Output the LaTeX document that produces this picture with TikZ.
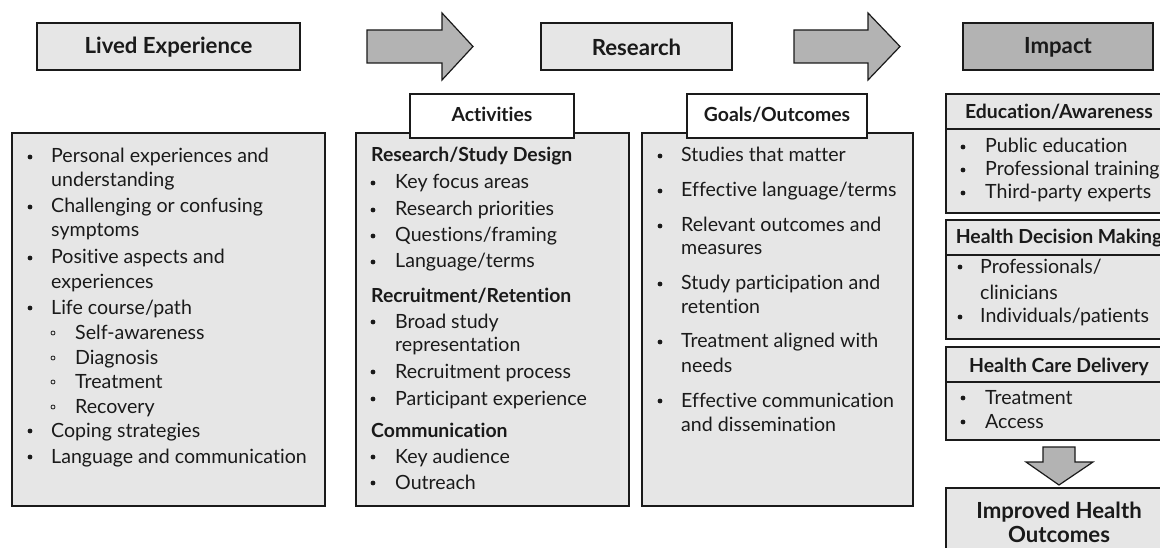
\documentclass[tikz,border=0pt]{standalone}
\usepackage{fontspec}
\setmainfont{Lato}[Ligatures=NoCommon]
\definecolor{boxfill}{HTML}{E6E6E6}
\definecolor{darkfill}{HTML}{B3B3B3}
\definecolor{ink}{HTML}{1A1A1A}
\tikzset{
  panel/.style={draw=ink, line width=1.3pt, fill=boxfill},
  darkpanel/.style={draw=ink, line width=1.3pt, fill=darkfill},
  tabbox/.style={draw=ink, line width=1.3pt, fill=white},
  bigarrow/.style={draw=ink, line width=1.2pt, fill=darkfill, line join=miter},
  txt/.style={anchor=base west, inner sep=0pt, font=\fontsize{19.6}{22}\selectfont, text=ink},
  hdr/.style={anchor=base west, inner sep=0pt, font=\fontsize{19.4}{22}\selectfont\bfseries, text=ink},
  title/.style={inner sep=0pt, font=\fontsize{22.2}{26}\selectfont\bfseries, text=ink},
}
% bullet item: name, bullet x, baseline y, text x offset, text
\newcommand\itm[5]{\fill[ink] (#2,#3-6) circle (2.4pt); \node[txt] (#1) at (#2+#4,#3) {#5};}
\newcommand\sub[5]{\draw[ink, line width=0.8pt] (#2,#3-6) circle (2pt); \node[txt] (#1) at (#2+#4,#3) {#5};}
\begin{document}
\begin{tikzpicture}[x=1pt,y=-1pt]
\useasboundingbox (0,0) rectangle (1160,548);
\clip (0,0) rectangle (1160,548);

% top row: stage headers and arrows
\draw[panel] (37,23) rectangle (300,70);
\node[title] (lived) at (168.5,47) {Lived Experience};
\draw[bigarrow] (367,30) -- (442,30) -- (442,13) -- (473,46.5) -- (442,80) -- (442,63) -- (367,63) -- cycle;
\draw[panel] (541,23) rectangle (732,70);
\node[title] (research) at (636.5,47) {Research};
\draw[bigarrow] (794,30) -- (868,30) -- (868,13) -- (900,46.5) -- (868,80) -- (868,63) -- (794,63) -- cycle;
\draw[darkpanel] (963,23) rectangle (1153,70);
\node[title] (impact) at (1058,47) {Impact};

% lived experience list
\draw[panel] (12,133) rectangle (325,506);
\itm{le1}{30}{163}{21}{Personal experiences and}
\node[txt] (le1b) at (51,187) {understanding};
\itm{le2}{30}{213}{21}{Challenging or confusing}
\node[txt] (le2b) at (51,237) {symptoms};
\itm{le3}{30}{264}{21}{Positive aspects and}
\node[txt] (le3b) at (51,288) {experiences};
\itm{le4}{30}{314}{21}{Life course/path}
\sub{le41}{53}{339}{22}{Self-awareness}
\sub{le42}{53}{364}{22}{Diagnosis}
\sub{le43}{53}{388}{22}{Treatment}
\sub{le44}{53}{413}{22}{Recovery}
\itm{le5}{30}{437}{21}{Coping strategies}
\itm{le6}{30}{463}{21}{Language and communication}

% research activities
\draw[panel] (356,133) rectangle (629,506);
\draw[tabbox] (410,94) rectangle (574,138);
\node[hdr, anchor=base] (act) at (492,122) {Activities};
\node[hdr] (rsd) at (371,162) {Research/Study Design};
\itm{ra1}{373}{189}{22}{Key focus areas}
\itm{ra2}{373}{216}{22}{Research priorities}
\itm{ra3}{373}{242}{22}{Questions/framing}
\itm{ra4}{373}{268}{22}{Language/terms}
\node[hdr] (rr) at (371,302) {Recruitment/Retention};
\itm{rb1}{373}{328}{22}{Broad study}
\node[txt] (rb1b) at (395,352) {representation};
\itm{rb2}{373}{378}{22}{Recruitment process}
\itm{rb3}{373}{405}{22}{Participant experience}
\node[hdr] (comm) at (371,437) {Communication};
\itm{rc1}{373}{463}{22}{Key audience}
\itm{rc2}{373}{489}{22}{Outreach}

% research goals and outcomes
\draw[panel] (642,133) rectangle (913,506);
\draw[tabbox] (687,94) rectangle (867,138);
\node[hdr, anchor=base] (goals) at (777,122) {Goals/Outcomes};
\itm{go1}{660}{162}{21}{Studies that matter}
\itm{go2}{660}{197}{21}{Effective language/terms}
\itm{go3}{660}{232}{21}{Relevant outcomes and}
\node[txt] (go3b) at (681,255) {measures};
\itm{go4}{660}{290}{21}{Study participation and}
\node[txt] (go4b) at (681,313) {retention};
\itm{go5}{660}{348}{21}{Treatment aligned with}
\node[txt] (go5b) at (681,372) {needs};
\itm{go6}{660}{407}{21}{Effective communication}
\node[txt] (go6b) at (681,431) {and dissemination};

% impact column
\draw[panel] (946,94) rectangle (1172,213);
\draw[ink, line width=1.3pt] (946,129) -- (1172,129);
\node[hdr, anchor=base] (edu) at (1059,119) {Education/Awareness};
\itm{ed1}{963}{153}{22}{Public education}
\itm{ed2}{963}{176}{22}{Professional training}
\itm{ed3}{963}{199}{22}{Third-party experts}

\draw[panel] (946,220) rectangle (1172,339);
\draw[ink, line width=1.3pt] (946,255) -- (1172,255);
\node[hdr, anchor=base] (hdm) at (1059,244) {Health Decision Making};
\itm{hd1}{960}{273}{20}{Professionals/}
\node[txt] (hd1b) at (980,300) {clinicians};
\itm{hd2}{960}{323}{20}{Individuals/patients}

\draw[panel] (946,347) rectangle (1172,440);
\draw[ink, line width=1.3pt] (946,382) -- (1172,382);
\node[hdr, anchor=base] (hcd) at (1059,372) {Health Care Delivery};
\itm{hc1}{963}{404}{22}{Treatment}
\itm{hc2}{963}{428}{22}{Access}

\draw[bigarrow] (1043,447) -- (1075,447) -- (1075,462) -- (1093,462) -- (1059,485) -- (1026,462) -- (1043,462) -- cycle;

\draw[panel, line width=2.2pt] (946,488) rectangle (1172,580);
\node[title, anchor=base] (ih1) at (1059,518) {Improved Health};
\node[title, anchor=base] (ih2) at (1059,542) {Outcomes};
\end{tikzpicture}
\end{document}
